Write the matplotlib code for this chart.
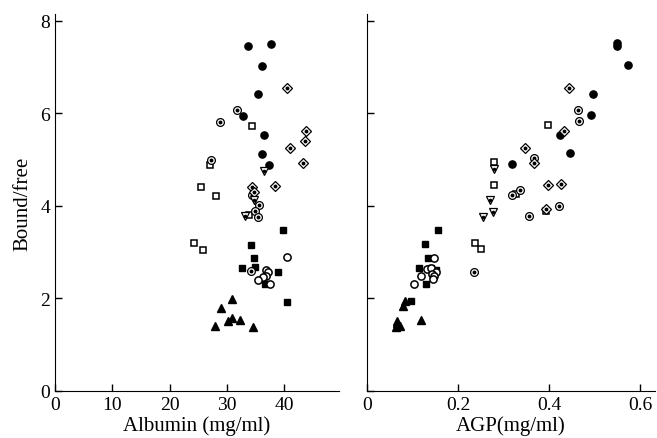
import matplotlib
matplotlib.use("Agg")
import matplotlib.pyplot as plt

plt.rcParams['font.family'] = ['Liberation Serif', 'DejaVu Serif']

# left panel: albumin (mg/ml) vs bound/free
alb_fc_x = [33.7, 37.7, 36.0, 35.3, 32.8, 36.4, 36.0, 37.3]
alb_fc_y = [7.45, 7.51, 7.03, 6.41, 5.95, 5.54, 5.13, 4.89]
alb_os_x = [34.3, 27.0, 25.4, 28.0, 33.9, 24.3, 25.8]
alb_os_y = [5.73, 4.89, 4.42, 4.22, 3.81, 3.19, 3.04]
alb_fs_x = [39.8, 34.1, 34.7, 32.6, 34.8, 38.9, 36.6, 40.5]
alb_fs_y = [3.47, 3.15, 2.87, 2.65, 2.67, 2.58, 2.31, 1.93]
alb_ft_x = [30.9, 29.0, 30.8, 30.2, 32.3, 27.9, 34.5]
alb_ft_y = [1.98, 1.79, 1.57, 1.52, 1.53, 1.41, 1.38]
alb_oc_x = [40.5, 36.8, 37.2, 36.7, 36.3, 35.4, 37.5]
alb_oc_y = [2.89, 2.62, 2.57, 2.49, 2.47, 2.41, 2.31]
alb_dc_x = [31.7, 28.7, 27.2, 34.3, 35.6, 34.9, 35.3, 34.2]
alb_dc_y = [6.07, 5.82, 5.00, 4.24, 4.02, 3.90, 3.77, 2.59]
alb_dd_x = [40.4, 43.7, 43.6, 41.0, 43.3, 38.3, 34.4, 34.6]
alb_dd_y = [6.55, 5.61, 5.40, 5.25, 4.92, 4.44, 4.42, 4.31]
alb_it_x = [36.5, 34.7, 33.2]
alb_it_y = [4.76, 4.13, 3.79]

# right panel: AGP (mg/ml) vs bound/free
agp_fc_x = [0.549, 0.549, 0.573, 0.496, 0.492, 0.425, 0.446, 0.319]
agp_fc_y = [7.52, 7.46, 7.05, 6.43, 5.97, 5.54, 5.15, 4.91]
agp_os_x = [0.397, 0.279, 0.279, 0.327, 0.393, 0.237, 0.250]
agp_os_y = [5.75, 4.94, 4.45, 4.25, 3.90, 3.20, 3.07]
agp_fs_x = [0.155, 0.127, 0.135, 0.114, 0.140, 0.152, 0.129, 0.096]
agp_fs_y = [3.49, 3.17, 2.87, 2.65, 2.66, 2.62, 2.31, 1.95]
agp_ft_x = [0.084, 0.080, 0.119, 0.065, 0.067, 0.073, 0.063]
agp_ft_y = [1.95, 1.83, 1.54, 1.52, 1.47, 1.41, 1.38]
agp_oc_x = [0.147, 0.131, 0.141, 0.152, 0.142, 0.148, 0.144, 0.118, 0.104]
agp_oc_y = [2.87, 2.63, 2.65, 2.57, 2.53, 2.49, 2.42, 2.49, 2.31]
agp_dc_x = [0.463, 0.467, 0.367, 0.336, 0.318, 0.421, 0.356, 0.236]
agp_dc_y = [6.08, 5.84, 5.03, 4.34, 4.24, 4.00, 3.78, 2.58]
agp_dd_x = [0.443, 0.432, 0.347, 0.367, 0.426, 0.397, 0.393]
agp_dd_y = [6.55, 5.63, 5.25, 4.92, 4.47, 4.45, 3.93]
agp_it_x = [0.280, 0.270, 0.276, 0.254]
agp_it_y = [4.80, 4.13, 3.86, 3.76]


def draw(ax, d):
    fc, os_, fs, ft, oc, dc, dd, it = d
    k = dict(linestyle='none', color='black')
    ax.plot(*fc, marker='o', ms=5.2, **k)
    ax.plot(*fs, marker='s', ms=4.8, **k)
    ax.plot(*ft, marker='^', ms=5.2, **k)
    ax.plot(*os_, marker='s', ms=4.8, mfc='white', mew=1.1, **k)
    ax.plot(*oc, marker='o', ms=5.2, mfc='white', mew=1.1, **k)
    ax.plot(*dc, marker='o', ms=5.6, mfc='white', mew=0.9, **k)
    ax.plot(*dc, marker='o', ms=1.8, **k)
    ax.plot(*dd, marker='D', ms=5.6, mfc='white', mew=0.9, **k)
    ax.plot(*dd, marker='o', ms=1.8, **k)
    ax.plot(*it, marker='v', ms=6, mfc='white', mew=0.9, **k)
    ax.plot(*it, marker='o', ms=1.6, **k)


fig = plt.figure(figsize=(6.57, 4.39), dpi=100)
ax1 = fig.add_axes([55 / 657, 47 / 439, 284 / 657, 377 / 439])
ax2 = fig.add_axes([367 / 657, 47 / 439, 288 / 657, 377 / 439])

draw(ax1, [(alb_fc_x, alb_fc_y), (alb_os_x, alb_os_y), (alb_fs_x, alb_fs_y),
           (alb_ft_x, alb_ft_y), (alb_oc_x, alb_oc_y), (alb_dc_x, alb_dc_y),
           (alb_dd_x, alb_dd_y), (alb_it_x, alb_it_y)])
draw(ax2, [(agp_fc_x, agp_fc_y), (agp_os_x, agp_os_y), (agp_fs_x, agp_fs_y),
           (agp_ft_x, agp_ft_y), (agp_oc_x, agp_oc_y), (agp_dc_x, agp_dc_y),
           (agp_dd_x, agp_dd_y), (agp_it_x, agp_it_y)])

for ax in (ax1, ax2):
    ax.spines['top'].set_visible(False)
    ax.spines['right'].set_visible(False)
    ax.set_ylim(0, 8.15)
    ax.set_yticks([0, 2, 4, 6, 8])
    ax.tick_params(direction='in', length=5, width=1, labelsize=14)

ax1.set_xlim(0, 49.5)
ax1.set_xticks([0, 10, 20, 30, 40])
ax1.set_yticklabels(['0', '2', '4', '6', '8'])
ax1.set_xlabel('Albumin (mg/ml)', fontsize=15, labelpad=2)
ax1.set_ylabel('Bound/free', fontsize=15, labelpad=6)

ax2.set_xlim(0, 0.633)
ax2.set_xticks([0, 0.2, 0.4, 0.6])
ax2.set_xticklabels(['0', '0.2', '0.4', '0.6'])
ax2.set_yticklabels([])
ax2.set_xlabel('AGP(mg/ml)', fontsize=15, labelpad=2)

fig.savefig('out.png', dpi=100)
